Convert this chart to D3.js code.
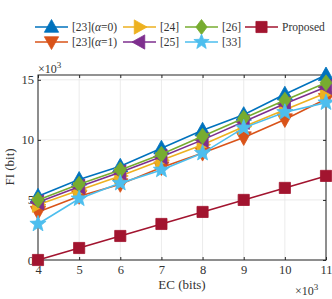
<!DOCTYPE html>
<html><head><meta charset="utf-8">
<script src="https://cdn.jsdelivr.net/npm/d3@7"></script>
<style>body{margin:0;background:#fff}svg text{font-family:"Liberation Serif","Times New Roman",serif}</style>
</head><body><svg id="c" width="332" height="299"></svg>
<script>
const ec = [4,5,6,7,8,9,10,11];
const s23a0 = [5.3,6.7,7.8,9.3,10.8,12.1,13.8,15.4];
const s23a1 = [4.0,5.3,6.3,7.7,8.9,10.2,11.7,13.4];
const s24 = [4.6,5.8,7.0,8.3,9.6,11.1,12.5,13.9];
const s25 = [4.8,6.1,7.3,8.6,10.0,11.5,13.0,14.4];
const s26 = [5.0,6.3,7.5,8.8,10.3,11.8,13.3,14.75];
const s33 = [3.0,5.1,6.4,7.5,8.9,11.0,12.3,13.1];
const sProp = [0,1,2,3,4,5,6,7];
const xTicks = [4,5,6,7,8,9,10,11];
const yTicks = [0,5,10,15];
const series = [
 {name:"[23](α=0)", v:s23a0, c:"#0072BD", m:"tu"},
 {name:"[23](α=1)", v:s23a1, c:"#D95319", m:"td"},
 {name:"[24]", v:s24, c:"#EDB120", m:"tr"},
 {name:"[25]", v:s25, c:"#7E2F8E", m:"tl"},
 {name:"[26]", v:s26, c:"#77AC30", m:"di"},
 {name:"[33]", v:s33, c:"#4DBEEE", m:"st"},
 {name:"Proposed", v:sProp, c:"#A2142F", m:"sq"}
];
const FF="Liberation Serif";
const TXT="#333";
const svg = d3.select("#c");
const L=38,R=326,T=75,B=260;
const x = d3.scaleLinear().domain([4,11]).range([L,R]);
const y = d3.scaleLinear().domain([0,15.4]).range([B,T]);
const g = svg.append("g");
xTicks.forEach(t=>g.append("line").attr("x1",x(t)).attr("x2",x(t)).attr("y1",T).attr("y2",B).attr("stroke","#e6e6e6").attr("stroke-width",0.8));
yTicks.forEach(t=>g.append("line").attr("x1",L).attr("x2",R).attr("y1",y(t)).attr("y2",y(t)).attr("stroke","#e6e6e6").attr("stroke-width",0.8));
const ax = svg.append("g").attr("transform",`translate(0,${B})`).call(d3.axisBottom(x).tickValues(xTicks).tickSize(-3).tickPadding(5).tickFormat(d3.format("d")));
const ay = svg.append("g").attr("transform",`translate(${L},0)`).call(d3.axisLeft(y).tickValues(yTicks).tickSize(-3).tickPadding(4).tickFormat(d3.format("d")));
const axT = svg.append("g").attr("transform",`translate(0,${T})`).call(d3.axisTop(x).tickValues(xTicks).tickSize(-3).tickFormat(""));
const ayR = svg.append("g").attr("transform",`translate(${R},0)`).call(d3.axisRight(y).tickValues(yTicks).tickSize(-3).tickFormat(""));
[ax,ay,axT,ayR].forEach(a=>{a.attr("font-family",FF).attr("font-size",12.5);a.select(".domain").remove();a.selectAll("line").attr("stroke","#262626");a.selectAll("text").attr("fill",TXT);});
svg.append("rect").attr("x",L).attr("y",T).attr("width",R-L).attr("height",B-T).attr("fill","none").attr("stroke","#262626").attr("stroke-width",1);
function marker(sel,m,c,s){
  let p;
  const r=s;
  if(m==="tu") p=`M0,${-r}L${r*0.95},${r*0.7}L${-r*0.95},${r*0.7}Z`;
  else if(m==="td") p=`M0,${r}L${r*0.95},${-r*0.7}L${-r*0.95},${-r*0.7}Z`;
  else if(m==="tr") p=`M${r},0L${-r*0.7},${r*0.95}L${-r*0.7},${-r*0.95}Z`;
  else if(m==="tl") p=`M${-r},0L${r*0.7},${r*0.95}L${r*0.7},${-r*0.95}Z`;
  else if(m==="di") p=`M0,${-r}L${r*0.75},0L0,${r}L${-r*0.75},0Z`;
  else if(m==="sq") {const h=r*0.62;p=`M${-h},${-h}L${h},${-h}L${h},${h}L${-h},${h}Z`;}
  else if(m==="st") {p=""; for(let i=0;i<10;i++){const a=-Math.PI/2+i*Math.PI/5;const rr=i%2?r*0.42:r;p+=(i?"L":"M")+(rr*Math.cos(a)).toFixed(2)+","+(rr*Math.sin(a)).toFixed(2);} p+="Z";}
  sel.append("path").attr("d",p).attr("fill",c).attr("stroke",c).attr("stroke-width",0.8);
}
const line = d3.line().x((d,i)=>x(ec[i])).y(d=>y(d));
series.forEach(s=>{
  svg.append("path").attr("d",line(s.v)).attr("fill","none").attr("stroke",s.c).attr("stroke-width",1.6);
  s.v.forEach((v,i)=>{const mg=svg.append("g").attr("transform",`translate(${x(ec[i])},${y(v)})`);marker(mg,s.m,s.c,s.m==="sq"?9:(s.m==="st"?8.5:8));});
});
function exp(xp,yp){const t=svg.append("text").attr("x",xp).attr("y",yp).attr("font-family",FF).attr("font-size",12).attr("fill",TXT);t.append("tspan").text("×10");t.append("tspan").attr("dy",-5).attr("font-size",9).text("3");}
exp(38,73); exp(295,295);
svg.append("text").attr("x",182).attr("y",289).attr("text-anchor","middle").attr("font-family",FF).attr("font-size",13).attr("fill",TXT).text("EC (bits)");
svg.append("text").attr("transform","translate(14,167) rotate(-90)").attr("text-anchor","middle").attr("font-family",FF).attr("font-size",13).attr("fill",TXT).text("FI (bit)");
const pos=[[35,27],[35,42],[123,27],[123,42],[185,27],[185,42],[245,27]];
series.forEach((s,i)=>{
  const [lx,ly]=pos[i];
  svg.append("line").attr("x1",lx).attr("x2",lx+33).attr("y1",ly).attr("y2",ly).attr("stroke",s.c).attr("stroke-width",1.6);
  const mg=svg.append("g").attr("transform",`translate(${lx+16.5},${ly})`);marker(mg,s.m,s.c,s.m==="sq"?9:(s.m==="st"?8:7.5));
  const t=svg.append("text").attr("x",lx+37).attr("y",ly+4).attr("font-family",FF).attr("font-size",11.5).attr("fill",TXT);
  if(s.name.startsWith("[23](")){t.append("tspan").text("[23](");t.append("tspan").attr("font-style","italic").text("α");t.append("tspan").text(s.name.slice(6));}
  else t.text(s.name);
});
</script></body></html>
